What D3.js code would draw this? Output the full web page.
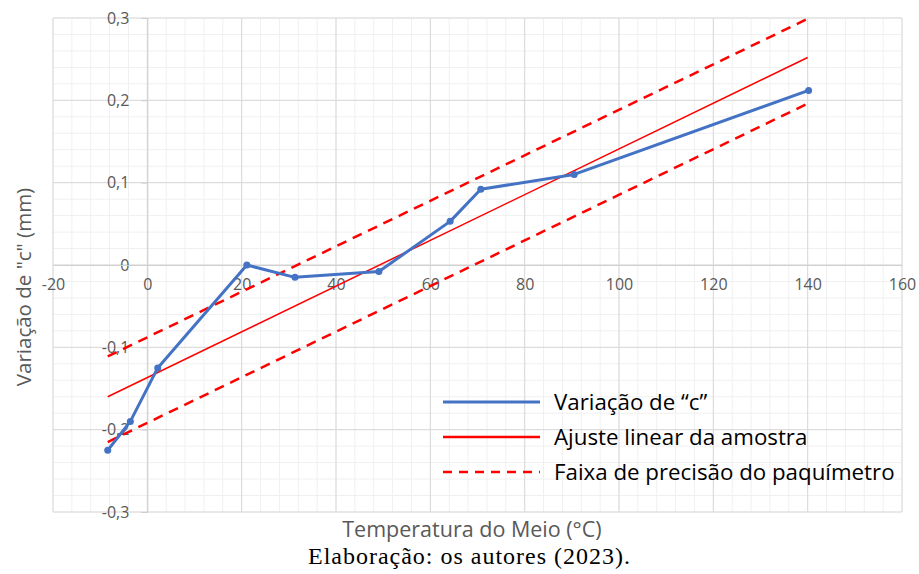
<!DOCTYPE html>
<html lang="pt">
<head>
<meta charset="UTF-8">
<title>Variação de "c" x Temperatura do Meio</title>
<script src="https://d3js.org/d3.v7.min.js"></script>
<style>
    body { margin: 0; padding: 0; background: #fff; }
    svg { display: block; font-family: "Open Sans", sans-serif; }
</style>
</head>
<body>
<script>
    // Data
    const tempC  = [-8.4, -3.6, 2.2, 21.1, 31.3, 49.1, 64.2, 70.7, 90.5, 140.2];
    const deltaC = [-0.225, -0.190, -0.125, 0.000, -0.015, -0.008, 0.053, 0.092, 0.110, 0.212];

    // linear fit and caliper precision band (end points)
    const fitX = [-8.4, 140];
    const fitY = [-0.160, 0.252];
    const bandUpperY = [-0.111, 0.299];
    const bandLowerY = [-0.215, 0.196];

    const xTicks = [-20, 0, 20, 40, 60, 80, 100, 120, 140, 160];
    const yTicks = [-0.3, -0.2, -0.1, 0, 0.1, 0.2, 0.3];
    const legendLabels = ["Variação de \u201Cc\u201D", "Ajuste linear da amostra", "Faixa de precisão do paquímetro"];

    const W = 919, H = 574;
    const plot = { left: 53, right: 902, top: 18, bottom: 512 };

    const svg = d3.select("body").append("svg")
        .attr("width", W)
        .attr("height", H);

    const x = d3.scaleLinear().domain([-20, 160]).range([plot.left, plot.right]);
    const y = d3.scaleLinear().domain([-0.3, 0.3]).range([plot.bottom, plot.top]);

    // gridlines: minor first, then major
    const grid = svg.append("g");
    const minorX = d3.range(-20, 160.1, 4);
    const minorY = d3.range(-0.3, 0.3001, 0.02);
    grid.selectAll(".mx").data(minorX).enter().append("line")
        .attr("x1", d => x(d)).attr("x2", d => x(d))
        .attr("y1", plot.top).attr("y2", plot.bottom)
        .attr("stroke", "#f0f0f0").attr("stroke-width", 1);
    grid.selectAll(".my").data(minorY).enter().append("line")
        .attr("x1", plot.left).attr("x2", plot.right)
        .attr("y1", d => y(d)).attr("y2", d => y(d))
        .attr("stroke", "#f0f0f0").attr("stroke-width", 1);
    grid.selectAll(".Mx").data(xTicks).enter().append("line")
        .attr("x1", d => x(d)).attr("x2", d => x(d))
        .attr("y1", plot.top).attr("y2", plot.bottom)
        .attr("stroke", "#d9d9d9").attr("stroke-width", 1);
    grid.selectAll(".My").data(yTicks).enter().append("line")
        .attr("x1", plot.left).attr("x2", plot.right)
        .attr("y1", d => y(d)).attr("y2", d => y(d))
        .attr("stroke", "#d9d9d9").attr("stroke-width", 1);

    // axes crossing at zero
    const yAxis = d3.axisLeft(y).tickValues(yTicks).tickSize(6).tickPadding(12)
        .tickFormat(d => d3.format(".1f")(d).replace(".", ",").replace("0,0", "0").replace("−", "-"));
    const yg = svg.append("g").attr("transform", `translate(${x(0)},0)`).call(yAxis);
    yg.select(".domain").attr("stroke", "#d0d0d0");
    yg.selectAll(".tick line").attr("stroke", "#d0d0d0");
    yg.selectAll("text").attr("fill", "#595959").attr("font-size", 16)
        .attr("font-family", "'Open Sans', sans-serif");

    const xAxis = d3.axisBottom(x).tickValues(xTicks).tickSize(0).tickPadding(14)
        .tickFormat(d => String(d));
    const xg = svg.append("g").attr("transform", `translate(0,${y(0)})`).call(xAxis);
    xg.select(".domain").attr("stroke", "#d0d0d0");
    xg.selectAll("text").attr("fill", "#595959").attr("font-size", 16)
        .attr("font-family", "'Open Sans', sans-serif");

    // fit and band lines
    const line = d3.line().x(d => x(d[0])).y(d => y(d[1]));
    const zipLine = (xs, ys) => xs.map((v, i) => [v, ys[i]]);

    svg.append("path").attr("d", line(zipLine(fitX, bandUpperY)))
        .attr("fill", "none").attr("stroke", "#ff0000").attr("stroke-width", 2.5)
        .attr("stroke-dasharray", "10,7");
    svg.append("path").attr("d", line(zipLine(fitX, bandLowerY)))
        .attr("fill", "none").attr("stroke", "#ff0000").attr("stroke-width", 2.5)
        .attr("stroke-dasharray", "10,7");
    svg.append("path").attr("d", line(zipLine(fitX, fitY)))
        .attr("fill", "none").attr("stroke", "#ff0000").attr("stroke-width", 1.5);

    // measured series
    const pts = zipLine(tempC, deltaC);
    svg.append("path").attr("d", line(pts))
        .attr("fill", "none").attr("stroke", "#4472c4").attr("stroke-width", 3)
        .attr("stroke-linejoin", "round");
    svg.selectAll(".pt").data(pts).enter().append("circle")
        .attr("cx", d => x(d[0])).attr("cy", d => y(d[1]))
        .attr("r", 3.5).attr("fill", "#4472c4");

    // legend
    const legend = svg.append("g").attr("transform", "translate(443,402)");
    const legendStyles = [
        { stroke: "#4472c4", width: 3, dash: null },
        { stroke: "#ff0000", width: 2.5, dash: null },
        { stroke: "#ff0000", width: 2.5, dash: "9,7" }
    ];
    legendLabels.forEach((lab, i) => {
        const row = legend.append("g").attr("transform", `translate(0,${i * 35})`);
        row.append("line").attr("x1", 0).attr("x2", 97).attr("y1", 0).attr("y2", 0)
            .attr("stroke", legendStyles[i].stroke)
            .attr("stroke-width", legendStyles[i].width)
            .attr("stroke-dasharray", legendStyles[i].dash);
        row.append("text").attr("x", 111).attr("y", 0).attr("dy", "0.35em")
            .attr("font-size", 22.3).attr("fill", "#000").text(lab);
    });

    // axis titles
    svg.append("text")
        .attr("transform", `translate(31,287) rotate(-90)`)
        .attr("text-anchor", "middle")
        .attr("font-size", 20.5).attr("fill", "#595959")
        .text("Variação de \"c\" (mm)");
    svg.append("text")
        .attr("x", 472).attr("y", 537)
        .attr("text-anchor", "middle")
        .attr("font-size", 21.5).attr("fill", "#595959")
        .text("Temperatura do Meio (°C)");

    // source caption
    svg.append("text")
        .attr("x", 469).attr("y", 564)
        .attr("text-anchor", "middle")
        .attr("font-family", "'Liberation Serif', 'Times New Roman', serif")
        .attr("font-size", 24).attr("fill", "#000")
        .attr("textLength", 322).attr("lengthAdjust", "spacing")
        .text("Elaboração: os autores (2023).");
</script>
</body>
</html>
